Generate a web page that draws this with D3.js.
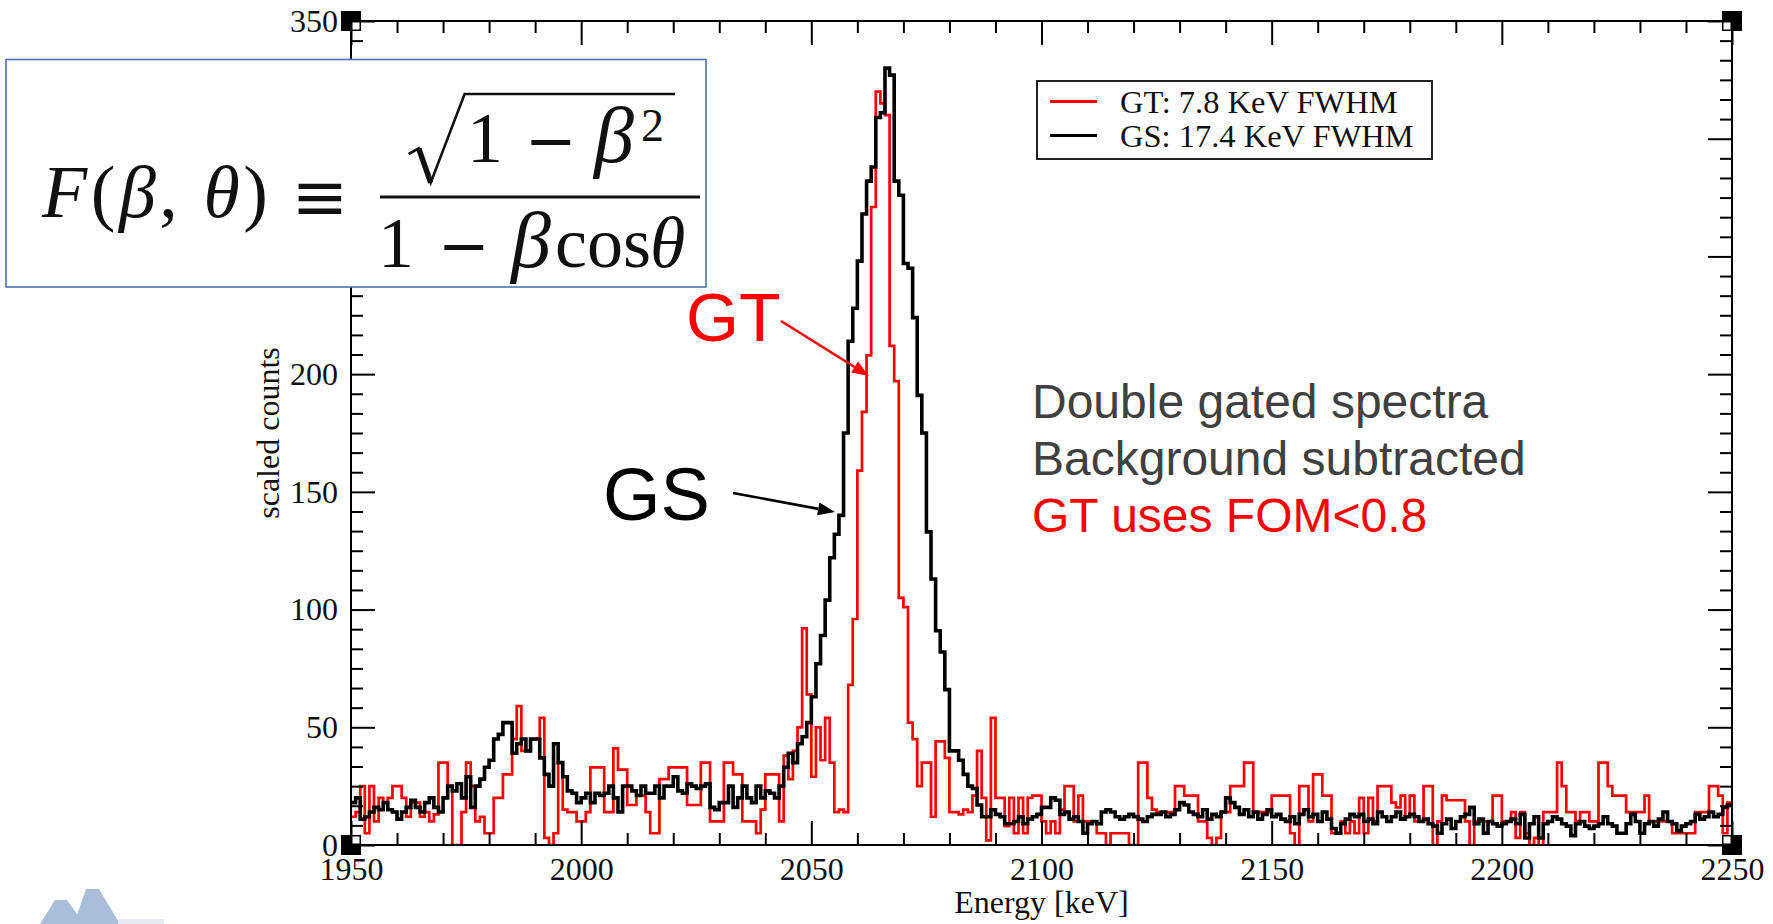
<!DOCTYPE html>
<html>
<head>
<meta charset="utf-8">
<script src="https://cdn.jsdelivr.net/npm/d3@7"></script>
<style>
  html, body { margin: 0; padding: 0; background: #fff; }
  svg { display: block; }
</style>
</head>
<body>
<svg id="chart" width="1773" height="924"></svg>
<script>
// Spectrum binning (keV)
const binStart = 1950;
const binWidth = 1;

// GS spectrum, scaled counts per 1 keV bin from 1950 keV
const gsCounts = [
  18, 20, 11, 12, 14, 16, 15, 18, 15, 14,
  11, 14, 16, 19, 16, 14, 18, 20, 16, 14,
  20, 25, 23, 26, 20, 29, 16, 25, 28, 33,
  36, 45, 47, 52, 52, 39, 43, 45, 40, 45,
  45, 37, 30, 25, 43, 35, 29, 23, 22, 18,
  20, 22, 18, 22, 21, 22, 25, 20, 14, 25,
  25, 23, 21, 25, 22, 22, 25, 20, 25, 25,
  29, 23, 22, 26, 25, 24, 25, 26, 16, 15,
  18, 18, 25, 16, 20, 25, 20, 18, 25, 20,
  23, 22, 20, 25, 33, 39, 35, 43, 46, 52,
  63, 77, 89, 104, 122, 132, 140, 175, 214, 228,
  248, 268, 282, 288, 309, 311, 330, 327, 282, 276,
  247, 245, 224, 191, 175, 133, 113, 91, 82, 66,
  40, 40, 36, 30, 25, 24, 17, 12, 12, 15,
  13, 12, 9, 9, 10, 12, 9, 11, 12, 13,
  16, 16, 20, 19, 13, 14, 11, 12, 10, 5,
  9, 10, 9, 14, 15, 14, 12, 11, 12, 13,
  12, 11, 10, 12, 13, 13, 14, 12, 13, 15,
  18, 17, 14, 13, 12, 15, 11, 13, 12, 14,
  20, 18, 16, 13, 15, 12, 14, 11, 13, 15,
  12, 13, 11, 10, 12, 9, 13, 15, 12, 13,
  10, 14, 11, 7, 5, 9, 11, 13, 12, 13,
  10, 11, 9, 14, 12, 10, 12, 14, 11, 12,
  13, 12, 10, 11, 9, 8, 5, 9, 11, 7,
  10, 12, 13, 16, 9, 11, 5, 10, 9, 8,
  9, 10, 11, 9, 13, 3, 9, 12, 3, 9,
  10, 12, 11, 9, 8, 4, 9, 10, 8, 7,
  8, 9, 12, 9, 8, 5, 5, 9, 13, 10,
  5, 9, 10, 8, 11, 14, 10, 9, 6, 8,
  9, 10, 13, 11, 12, 14, 12, 13, 16, 17
];

// GT spectrum, scaled counts per 1 keV bin from 1950 keV
const gtCounts = [
  12, 14, 25, 5, 25, 10, 20, 18, 20, 25,
  25, 20, 12, 18, 18, 12, 14, 10, 13, 35,
  35, 25, 0, 0, 14, 35, 25, 10, 12, 5,
  5, 20, 20, 30, 30, 45, 59, 40, 40, 45,
  45, 54, 3, 0, 5, 35, 15, 14, 14, 10,
  10, 14, 33, 33, 33, 14, 14, 41, 32, 32,
  17, 17, 21, 21, 14, 5, 5, 28, 28, 33,
  33, 33, 33, 17, 17, 17, 35, 35, 10, 10,
  10, 35, 35, 30, 30, 10, 10, 10, 5, 15,
  30, 30, 30, 10, 38, 28, 40, 50, 92, 64,
  29, 50, 36, 54, 35, 14, 15, 14, 68, 96,
  159, 184, 208, 271, 320, 315, 310, 212, 197, 105,
  101, 52, 45, 25, 35, 35, 12, 44, 44, 37,
  14, 14, 13, 15, 14, 21, 40, 20, 2, 54,
  20, 20, 8, 20, 5, 20, 5, 20, 21, 21,
  10, 5, 10, 5, 15, 25, 25, 10, 21, 10,
  10, 10, 5, 5, 0, 5, 5, 5, 5, 0,
  0, 35, 35, 20, 15, 14, 14, 14, 14, 25,
  25, 21, 21, 21, 10, 10, 3, 0, 3, 14,
  14, 25, 25, 25, 35, 35, 14, 14, 14, 14,
  21, 21, 21, 21, 5, 0, 25, 25, 10, 30,
  30, 21, 21, 5, 5, 10, 5, 10, 5, 20,
  5, 20, 10, 25, 25, 25, 18, 16, 21, 12,
  21, 10, 10, 25, 25, 0, 10, 21, 19, 19,
  19, 19, 10, 0, 10, 10, 10, 10, 21, 21,
  10, 10, 14, 3, 14, 5, 0, 3, 0, 14,
  14, 14, 35, 25, 14, 14, 10, 14, 14, 10,
  10, 35, 35, 25, 21, 21, 21, 14, 14, 14,
  14, 21, 10, 10, 10, 10, 10, 5, 5, 5,
  5, 5, 14, 14, 14, 25, 25, 21, 5, 18
];

const xDomain = [1950, 2250];
const yDomain = [0, 350];
const xMajorTicks = [1950, 2000, 2050, 2100, 2150, 2200, 2250];
const yMajorTicks = [0, 50, 100, 150, 200, 250, 300, 350];
const xMinorStep = 10;
const yMinorPerMajor = 6;

const legendLabels = ["GT: 7.8 KeV FWHM", "GS: 17.4 KeV FWHM"];
const noteLines = ["Double gated spectra", "Background subtracted", "GT uses FOM<0.8"];

const SERIF = "'Liberation Serif', 'Times New Roman', Times, serif";
const SANS = "'Liberation Sans', Arial, Helvetica, sans-serif";
const RED = "#ff0000";

const svg = d3.select("#chart");
svg.append("rect").attr("width", 1773).attr("height", 924).attr("fill", "#fff");

const plot = { left: 351, right: 1732, top: 21, bottom: 845 };
const x = d3.scaleLinear().domain(xDomain).range([plot.left, plot.right]);
const y = d3.scaleLinear().domain(yDomain).range([plot.bottom, plot.top]);

// clip for the spectra
svg.append("defs").append("clipPath").attr("id", "plotClip")
  .append("rect")
  .attr("x", plot.left).attr("y", plot.top - 2)
  .attr("width", plot.right - plot.left).attr("height", plot.bottom - plot.top + 2);

function stepPoints(counts) {
  const pts = counts.map((v, i) => [binStart + i * binWidth, v]);
  pts.push([binStart + counts.length * binWidth, counts[counts.length - 1]]);
  return pts;
}

const stepLine = d3.line()
  .x(d => x(d[0]))
  .y(d => y(d[1]))
  .curve(d3.curveStepAfter);

const spectra = svg.append("g").attr("clip-path", "url(#plotClip)");
spectra.append("path")
  .attr("d", stepLine(stepPoints(gtCounts)))
  .attr("fill", "none").attr("stroke", RED)
  .attr("stroke-width", 2.7).attr("stroke-linejoin", "miter");
spectra.append("path")
  .attr("d", stepLine(stepPoints(gsCounts)))
  .attr("fill", "none").attr("stroke", "#000")
  .attr("stroke-width", 3.6).attr("stroke-linejoin", "miter");

// axes: ticks point inward on all four sides
const xMinor = d3.range(xDomain[0], xDomain[1] + 1, xMinorStep).filter(v => !xMajorTicks.includes(v));
const yMinor = d3.range(0, (yMajorTicks.length - 1) * yMinorPerMajor + 1)
  .filter(i => i % yMinorPerMajor !== 0)
  .map(i => i * 50 / yMinorPerMajor);

function styleAxis(g) {
  g.select(".domain").remove();
  g.selectAll(".tick line").attr("stroke", "#000").attr("stroke-width", 2);
  g.selectAll(".tick text")
    .attr("fill", "#111")
    .style("font-family", SERIF)
    .style("font-size", "32px");
}

const axes = svg.append("g");
axes.append("g").attr("transform", `translate(0,${plot.bottom})`)
  .call(d3.axisBottom(x).tickValues(xMajorTicks).tickSize(-24).tickSizeOuter(0).tickPadding(12).tickFormat(d3.format("d")))
  .call(styleAxis);
axes.append("g").attr("transform", `translate(0,${plot.bottom})`)
  .call(d3.axisBottom(x).tickValues(xMinor).tickSize(-12).tickSizeOuter(0).tickFormat(""))
  .call(styleAxis);
axes.append("g").attr("transform", `translate(0,${plot.top})`)
  .call(d3.axisTop(x).tickValues(xMajorTicks).tickSize(-24).tickSizeOuter(0).tickFormat(""))
  .call(styleAxis);
axes.append("g").attr("transform", `translate(0,${plot.top})`)
  .call(d3.axisTop(x).tickValues(xMinor).tickSize(-12).tickSizeOuter(0).tickFormat(""))
  .call(styleAxis);
axes.append("g").attr("transform", `translate(${plot.left},0)`)
  .call(d3.axisLeft(y).tickValues(yMajorTicks).tickSize(-24).tickSizeOuter(0).tickPadding(13).tickFormat(d3.format("d")))
  .call(styleAxis);
axes.append("g").attr("transform", `translate(${plot.left},0)`)
  .call(d3.axisLeft(y).tickValues(yMinor).tickSize(-12).tickSizeOuter(0).tickFormat(""))
  .call(styleAxis);
axes.append("g").attr("transform", `translate(${plot.right},0)`)
  .call(d3.axisRight(y).tickValues(yMajorTicks).tickSize(-24).tickSizeOuter(0).tickFormat(""))
  .call(styleAxis);
axes.append("g").attr("transform", `translate(${plot.right},0)`)
  .call(d3.axisRight(y).tickValues(yMinor).tickSize(-12).tickSizeOuter(0).tickFormat(""))
  .call(styleAxis);

// frame
axes.append("rect")
  .attr("x", plot.left).attr("y", plot.top)
  .attr("width", plot.right - plot.left).attr("height", plot.bottom - plot.top)
  .attr("fill", "none").attr("stroke", "#000").attr("stroke-width", 2);

// corner markers
const corners = [
  [xDomain[0], yDomain[0], 1, -1], [xDomain[1], yDomain[0], -1, -1],
  [xDomain[0], yDomain[1], 1, 1], [xDomain[1], yDomain[1], -1, 1]
];
corners.forEach(([cx, cy, sx, sy]) => {
  const px = x(cx), py = y(cy);
  axes.append("rect").attr("x", px - 10).attr("y", py - 10).attr("width", 20).attr("height", 20).attr("fill", "#000");
  axes.append("rect")
    .attr("x", sx > 0 ? px + 1.5 : px - 8.5)
    .attr("y", sy > 0 ? py + 1.5 : py - 8.5)
    .attr("width", 7).attr("height", 7).attr("fill", "#fff");
});

// axis titles
svg.append("text")
  .attr("x", (plot.left + plot.right) / 2).attr("y", 913)
  .attr("text-anchor", "middle")
  .style("font-family", SERIF).style("font-size", "32px").attr("fill", "#111")
  .text("Energy [keV]");
svg.append("text")
  .attr("transform", `translate(279,${(plot.top + plot.bottom) / 2}) rotate(-90)`)
  .attr("text-anchor", "middle")
  .style("font-family", SERIF).style("font-size", "32px").attr("fill", "#111")
  .text("scaled counts");

// legend
const legend = svg.append("g");
legend.append("rect")
  .attr("x", 1037).attr("y", 81).attr("width", 395).attr("height", 78)
  .attr("fill", "#fff").attr("stroke", "#222").attr("stroke-width", 2);
const legendColors = [RED, "#000"];
legendLabels.forEach((lab, i) => {
  const ly = 101.5 + i * 34;
  legend.append("line")
    .attr("x1", 1050).attr("x2", 1097).attr("y1", ly).attr("y2", ly)
    .attr("stroke", legendColors[i]).attr("stroke-width", 3.2);
  legend.append("text")
    .attr("x", 1120).attr("y", ly + 11)
    .style("font-family", SERIF).style("font-size", "32.5px").attr("fill", "#111")
    .text(lab);
});

// formula box
const fb = svg.append("g");
fb.append("rect")
  .attr("x", 6).attr("y", 59.5).attr("width", 700).attr("height", 227.5)
  .attr("fill", "#fff").attr("stroke", "#4a72b5").attr("stroke-width", 1.6);

const fText = fb.append("text").attr("x", 42).attr("y", 217)
  .attr("textLength", 226).attr("lengthAdjust", "spacing")
  .style("font-family", SERIF).style("font-size", "74px").attr("fill", "#111");
fText.append("tspan").style("font-style", "italic").text("F");
fText.append("tspan").text("(");
fText.append("tspan").style("font-style", "italic").text("β");
fText.append("tspan").text(", ");
fText.append("tspan").style("font-style", "italic").text("θ");
fText.append("tspan").text(")");

fb.append("text").attr("x", 320).attr("y", 220).attr("text-anchor", "middle")
  .style("font-family", "'DejaVu Serif', serif").style("font-size", "68px").attr("fill", "#111")
  .text("≡");

// fraction bar
fb.append("line").attr("x1", 380).attr("x2", 700).attr("y1", 197).attr("y2", 197)
  .attr("stroke", "#111").attr("stroke-width", 3);

// radical sign
fb.append("path")
  .attr("d", "M408.6,154 L418.7,148.3 L430.7,182.7 L464.6,94 L675,94")
  .attr("fill", "none").attr("stroke", "#111").attr("stroke-width", 2.6).attr("stroke-linejoin", "miter");
fb.append("path")
  .attr("d", "M418.7,148.3 L430.7,182.7")
  .attr("fill", "none").attr("stroke", "#111").attr("stroke-width", 5.5);

// numerator
const numer = fb.append("g").style("font-family", SERIF).attr("fill", "#111");
numer.append("text").attr("x", 467).attr("y", 162).style("font-size", "72px").text("1");
numer.append("text").attr("x", 551).attr("y", 162).attr("text-anchor", "middle")
  .style("font-family", "'DejaVu Serif', serif").style("font-size", "62px").text("−");
numer.append("text").attr("x", 594).attr("y", 162).style("font-size", "80px").style("font-style", "italic").text("β");
numer.append("text").attr("x", 641).attr("y", 141).style("font-size", "46px").text("2");

// denominator
const denom = fb.append("g").style("font-family", SERIF).attr("fill", "#111");
denom.append("text").attr("x", 378).attr("y", 267).style("font-size", "72px").text("1");
denom.append("text").attr("x", 464).attr("y", 267).attr("text-anchor", "middle")
  .style("font-family", "'DejaVu Serif', serif").style("font-size", "62px").text("−");
denom.append("text").attr("x", 511).attr("y", 267).style("font-size", "80px").style("font-style", "italic").text("β");
denom.append("text").attr("x", 555).attr("y", 267).style("font-size", "72px").text("cos");
denom.append("text").attr("x", 650).attr("y", 267).style("font-size", "72px").style("font-style", "italic").text("θ");

// annotations
function arrow(g, x1, y1, x2, y2, color, width, headLen, headW) {
  const ang = Math.atan2(y2 - y1, x2 - x1);
  const bx = x2 - headLen * Math.cos(ang), by = y2 - headLen * Math.sin(ang);
  g.append("line").attr("x1", x1).attr("y1", y1).attr("x2", bx).attr("y2", by)
    .attr("stroke", color).attr("stroke-width", width);
  const nx = -Math.sin(ang) * headW / 2, ny = Math.cos(ang) * headW / 2;
  g.append("polygon")
    .attr("points", `${x2},${y2} ${bx + nx},${by + ny} ${bx - nx},${by - ny}`)
    .attr("fill", color);
}
const ann = svg.append("g");
ann.append("text").attr("x", 686).attr("y", 341)
  .style("font-family", SANS).style("font-size", "68px").attr("fill", RED).text("GT");
arrow(ann, 781, 321, 869, 376, RED, 2.6, 17, 13);
ann.append("text").attr("x", 603).attr("y", 520)
  .style("font-family", SANS).style("font-size", "74px").attr("fill", "#000").text("GS");
arrow(ann, 733, 493, 835, 512, "#000", 2.6, 17, 13);

const noteColors = ["#404040", "#404040", RED];
noteLines.forEach((t, i) => {
  ann.append("text").attr("x", 1032).attr("y", 418 + i * 57)
    .style("font-family", SANS).style("font-size", "48px").attr("fill", noteColors[i]).text(t);
});

// logo fragment at lower left
const logo = svg.append("g").attr("fill", "#a9bfd9");
logo.append("polygon").attr("points", "40,924 55,900 67,900 84,924");
logo.append("polygon").attr("points", "74,924 86,889 99,889 120,924");
logo.append("rect").attr("x", 118).attr("y", 919).attr("width", 46).attr("height", 5).attr("fill", "#e4ebf3");
</script>
</body>
</html>
